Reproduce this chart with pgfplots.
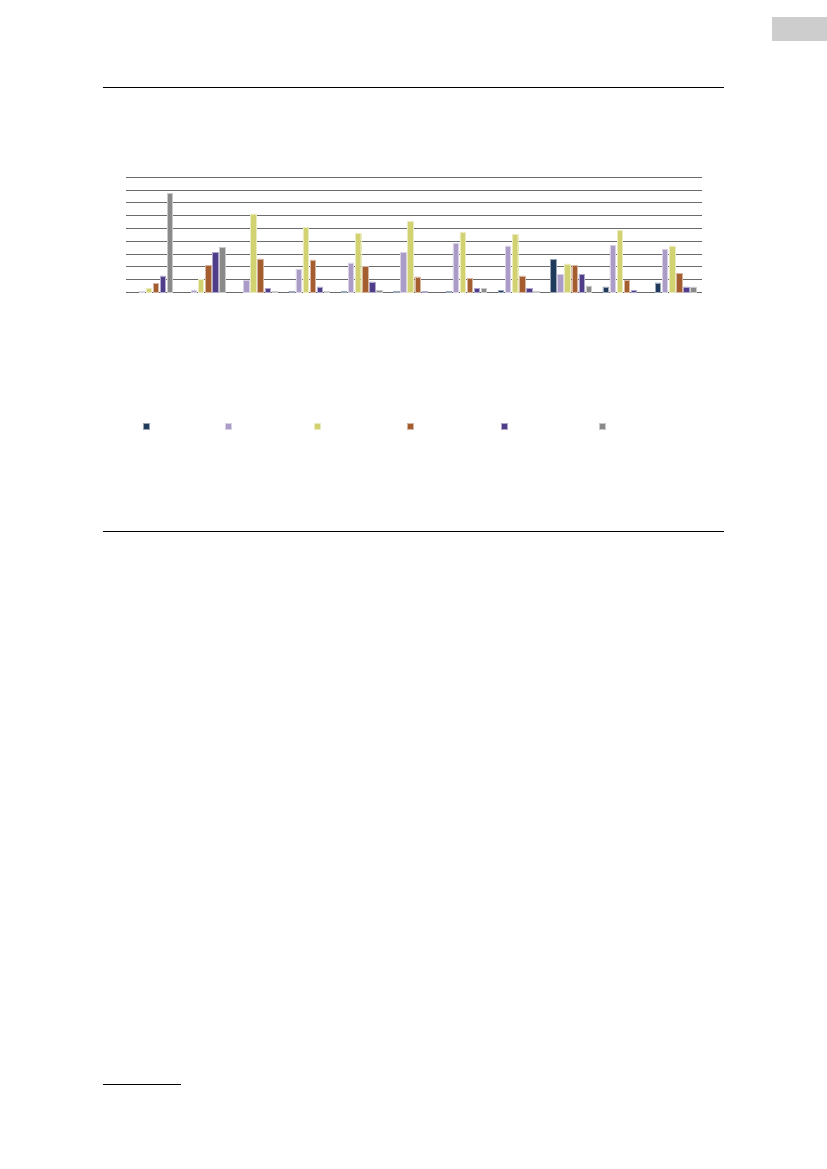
\documentclass[border=0pt]{standalone}
\usepackage{pgfplots}
\pgfplotsset{compat=1.18}
\definecolor{cA}{HTML}{1F3A5A}
\definecolor{cB}{HTML}{AA9CC6}
\definecolor{cC}{HTML}{D2D272}
\definecolor{cD}{HTML}{A45D2E}
\definecolor{cE}{HTML}{4F3D8A}
\definecolor{cF}{HTML}{8A8A8A}
\definecolor{gridc}{HTML}{6B6B6B}
\definecolor{boxc}{HTML}{CDCDCD}
\begin{document}
\begin{tikzpicture}[x=0.25393mm,y=0.25393mm]
\path[use as bounding box] (0,0) rectangle (827,1169);
\fill[boxc] (771.7,1169-17.3) rectangle (827,1169-41.3);
\draw[black,line width=0.25393mm] (102.5,1169-87.3) -- (723.5,1169-87.3);
\draw[black,line width=0.25393mm] (102.5,1169-531.3) -- (723.5,1169-531.3);
\draw[black,line width=0.25393mm] (102.5,1169-1084.3) -- (181,1169-1084.3);
\begin{axis}[
  at={(32.0mm,222.62mm)}, anchor=south west,
  scale only axis,
  width=146.2mm, height=29.2mm,
  xmin=-0.5, xmax=10.5, ymin=0, ymax=9,
  ytick={0,1,...,9}, xtick=\empty,
  yticklabels={}, 
  major tick length=0pt,
  ymajorgrids,
  grid style={gridc, line width=0.7pt},
  axis line style={draw=none},
  ybar=0.423mm, bar width=1.37mm,
  every axis plot/.append style={line width=0.3pt},
  legend columns=-1,
  legend style={draw=none, fill=none, at={(axis description cs:0.02953,-1.1652)}, anchor=west,
     column sep=0pt, inner sep=0pt, outer sep=0pt, nodes={inner sep=0pt, outer sep=0pt}},
  legend image code/.code={\fill[#1] (0mm,-0.76mm) rectangle (1.52mm,0.76mm);},
]
\addplot[fill=cA, draw=cA!45!white] coordinates {(3,0.1)(4,0.1)(5,0.1)(6,0.1)(7,0.18)(8,2.56)(9,0.42)(10,0.73)};
\addlegendentry{\hspace*{19.12mm}}
\addplot[fill=cB, draw=cB!45!white] coordinates {(0,0.1)(1,0.2)(2,0.91)(3,1.8)(4,2.3)(5,3.1)(6,3.81)(7,3.63)(8,1.41)(9,3.7)(10,3.39)};
\addlegendentry{\hspace*{21.08mm}}
\addplot[fill=cC, draw=cC!45!white] coordinates {(0,0.29)(1,1.02)(2,6.13)(3,5.11)(4,4.62)(5,5.53)(6,4.72)(7,4.51)(8,2.22)(9,4.83)(10,3.63)};
\addlegendentry{\hspace*{21.94mm}}
\addplot[fill=cD, draw=cD!45!white] coordinates {(0,0.7)(1,2.11)(2,2.61)(3,2.53)(4,2.03)(5,1.2)(6,1.12)(7,1.28)(8,2.11)(9,0.91)(10,1.49)};
\addlegendentry{\hspace*{22.24mm}}
\addplot[fill=cE, draw=cE!45!white] coordinates {(0,1.28)(1,3.1)(2,0.29)(3,0.42)(4,0.81)(5,0.1)(6,0.29)(7,0.29)(8,1.41)(9,0.18)(10,0.42)};
\addlegendentry{\hspace*{23.36mm}}
\addplot[fill=cF, draw=cF!45!white] coordinates {(0,7.72)(1,3.52)(2,0.1)(3,0.1)(4,0.18)(6,0.29)(7,0.1)(8,0.5)(10,0.42)};
\addlegendentry{}
\end{axis}
\end{tikzpicture}
\end{document}
